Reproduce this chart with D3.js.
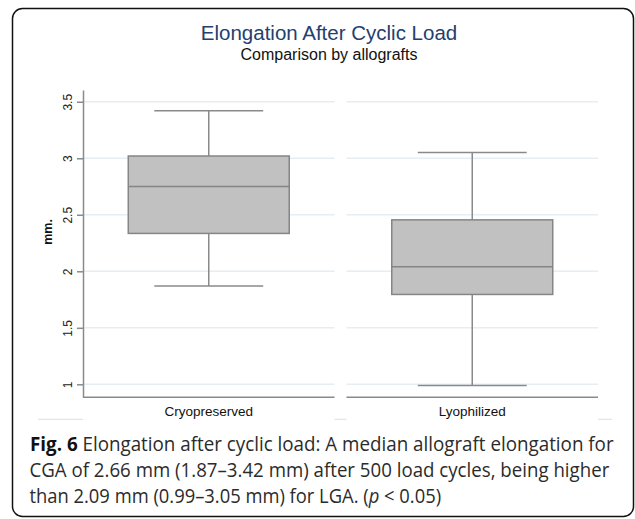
<!DOCTYPE html>
<html>
<head>
<meta charset="utf-8">
<script src="https://cdn.jsdelivr.net/npm/d3@7"></script>
<style>
  body { margin: 0; background: #fff; }
  svg { display: block; }
</style>
</head>
<body>
<div id="viz"></div>
<script>
// box plot values (mm)
var categories = ["Cryopreserved", "Lyophilized"];
var lowWhisker = [1.87, 0.99];
var q1 = [2.335, 1.795];
var medians = [2.75, 2.04];
var q3 = [3.02, 2.455];
var highWhisker = [3.42, 3.05];
var yTicks = [1, 1.5, 2, 2.5, 3, 3.5];

var captionLines = [
  "Elongation after cyclic load: A median allograft elongation for",
  "CGA of 2.66 mm (1.87\u20133.42 mm) after 500 load cycles, being higher",
  "than 2.09 mm (0.99\u20133.05 mm) for LGA. ("
];

var width = 635, height = 519;
var grey = "#8a8a8a";

var svg = d3.select("#viz").append("svg")
  .attr("width", width)
  .attr("height", height);

// outer frame
svg.append("rect")
  .attr("x", 12.5).attr("y", 8.5)
  .attr("width", 621).attr("height", 508)
  .attr("rx", 10).attr("ry", 10)
  .attr("fill", "#fff")
  .attr("stroke", "#111")
  .attr("stroke-width", 1.5);

var y = d3.scaleLinear()
  .domain([0.885, 3.604])
  .range([397.3, 90]);

var x = d3.scaleBand()
  .domain(categories)
  .range([83, 598])
  .paddingInner(0.0455)
  .paddingOuter(0);

var bw = x.bandwidth();

// titles
svg.append("text")
  .attr("x", 329).attr("y", 39.5)
  .attr("text-anchor", "middle")
  .style("font-family", "'Liberation Sans', Arial, sans-serif")
  .style("font-size", "20.5px")
  .attr("fill", "#25406f")
  .text("Elongation After Cyclic Load");

svg.append("text")
  .attr("x", 329).attr("y", 60)
  .attr("text-anchor", "middle")
  .style("font-family", "'Liberation Sans', Arial, sans-serif")
  .style("font-size", "16px")
  .attr("fill", "#111")
  .text("Comparison by allografts");

// grid lines per panel
var panels = svg.append("g");
categories.forEach(function(c) {
  panels.selectAll(null).data(yTicks).enter().append("line")
    .attr("x1", x(c)).attr("x2", x(c) + bw)
    .attr("y1", function(d) { return y(d); })
    .attr("y2", function(d) { return y(d); })
    .attr("stroke", "#e6eef4")
    .attr("stroke-width", 1.5);
  // bottom axis line
  panels.append("line")
    .attr("x1", x(c)).attr("x2", x(c) + bw)
    .attr("y1", y.range()[0]).attr("y2", y.range()[0])
    .attr("stroke", grey)
    .attr("stroke-width", 1.5);
});

// faint outer line under the panels
var fx = [38, x(categories[0]), x(categories[0]) + bw, x(categories[1]), x(categories[1]) + bw, 612];
for (var i = 0; i < fx.length; i += 2) {
  svg.append("line")
    .attr("x1", fx[i]).attr("x2", fx[i + 1])
    .attr("y1", 419.3).attr("y2", 419.3)
    .attr("stroke", "#dedede")
    .attr("stroke-width", 1);
}

// y axis
var yAxis = svg.append("g")
  .attr("transform", "translate(83,0)")
  .call(d3.axisLeft(y).tickValues(yTicks).tickSize(6).tickSizeOuter(0).tickFormat(d3.format("")));

yAxis.select(".domain").attr("stroke", grey).attr("stroke-width", 1.5);
yAxis.selectAll(".tick line").attr("stroke", grey).attr("stroke-width", 1.5);
yAxis.selectAll(".tick text")
  .attr("x", null).attr("dy", null)
  .attr("transform", "translate(-11.5,0) rotate(-90)")
  .attr("text-anchor", "middle")
  .attr("fill", "#222")
  .style("font-family", "'Liberation Sans', Arial, sans-serif")
  .style("font-size", "12px");

svg.append("text")
  .attr("transform", "translate(52,232) rotate(-90)")
  .attr("text-anchor", "middle")
  .style("font-family", "'Liberation Sans', Arial, sans-serif")
  .style("font-size", "12.5px")
  .style("font-weight", "bold")
  .attr("fill", "#111")
  .text("mm.");

// x labels
svg.selectAll(".xlab").data(categories).enter().append("text")
  .attr("class", "xlab")
  .attr("x", function(d) { return x(d) + bw / 2; })
  .attr("y", 415.5)
  .attr("text-anchor", "middle")
  .style("font-family", "'Liberation Sans', Arial, sans-serif")
  .style("font-size", "13.5px")
  .attr("fill", "#111")
  .text(function(d) { return d; });

// boxes
var boxW = bw * 0.64, capW = bw * 0.433;
var boxes = svg.selectAll(".box").data(categories).enter().append("g")
  .attr("class", "box");

boxes.append("line")
  .attr("x1", function(d) { return x(d) + bw / 2; })
  .attr("x2", function(d) { return x(d) + bw / 2; })
  .attr("y1", function(d, i) { return y(highWhisker[i]); })
  .attr("y2", function(d, i) { return y(q3[i]); })
  .attr("stroke", grey).attr("stroke-width", 1.5);

boxes.append("line")
  .attr("x1", function(d) { return x(d) + bw / 2; })
  .attr("x2", function(d) { return x(d) + bw / 2; })
  .attr("y1", function(d, i) { return y(q1[i]); })
  .attr("y2", function(d, i) { return y(lowWhisker[i]); })
  .attr("stroke", grey).attr("stroke-width", 1.5);

[highWhisker, lowWhisker].forEach(function(arr) {
  boxes.append("line")
    .attr("x1", function(d) { return x(d) + (bw - capW) / 2; })
    .attr("x2", function(d) { return x(d) + (bw + capW) / 2; })
    .attr("y1", function(d, i) { return y(arr[i]); })
    .attr("y2", function(d, i) { return y(arr[i]); })
    .attr("stroke", grey).attr("stroke-width", 1.5);
});

boxes.append("rect")
  .attr("x", function(d) { return x(d) + (bw - boxW) / 2; })
  .attr("width", boxW)
  .attr("y", function(d, i) { return y(q3[i]); })
  .attr("height", function(d, i) { return y(q1[i]) - y(q3[i]); })
  .attr("fill", "#c1c1c1")
  .attr("stroke", "#858585")
  .attr("stroke-width", 1.5);

boxes.append("line")
  .attr("x1", function(d) { return x(d) + (bw - boxW) / 2; })
  .attr("x2", function(d) { return x(d) + (bw + boxW) / 2; })
  .attr("y1", function(d, i) { return y(medians[i]); })
  .attr("y2", function(d, i) { return y(medians[i]); })
  .attr("stroke", "#858585").attr("stroke-width", 1.5);

// caption: condensed by a horizontal scale so each line ends where the reference does
var capFont = "'Open Sans', 'Noto Sans', sans-serif";
var capSize = "20px";

function captionLine(x0, y0, w) {
  var t = svg.append("text")
    .attr("x", 0).attr("y", 0)
    .style("font-family", capFont).style("font-size", capSize)
    .attr("fill", "#2b2b2b");
  t.fit = function() {
    var len = t.node().getComputedTextLength();
    t.attr("transform", "translate(" + x0 + "," + y0 + ") scale(" + (w / len) + ",1)");
  };
  return t;
}

var c1 = captionLine(30, 451, 584);
c1.append("tspan").style("font-weight", "bold").attr("fill", "#111").text("Fig. 6");
c1.append("tspan").text(" " + captionLines[0]);
c1.fit();

var c2 = captionLine(29.5, 477, 580);
c2.text(captionLines[1]);
c2.fit();

var c3 = captionLine(29.5, 503, 412);
c3.append("tspan").text(captionLines[2]);
c3.append("tspan").style("font-style", "italic").text("p");
c3.append("tspan").text(" < 0.05)");
c3.fit();
</script>
</body>
</html>
